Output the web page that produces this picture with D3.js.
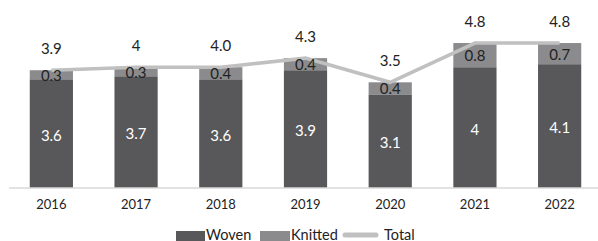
<!DOCTYPE html>
<html>
<head>
<meta charset="utf-8">
<script src="https://cdn.jsdelivr.net/npm/d3@7"></script>
<style>
  body { margin: 0; background: #fff; }
  svg { display: block; font-family: Lato, "Open Sans", sans-serif; }
</style>
</head>
<body>
<svg width="598" height="241"></svg>
<script>
var years = ["2016", "2017", "2018", "2019", "2020", "2021", "2022"];
var woven = [3.6, 3.7, 3.6, 3.9, 3.1, 4, 4.1];
var knitted = [0.3, 0.3, 0.4, 0.4, 0.4, 0.8, 0.7];
var total = [3.9, 4, 4.0, 4.3, 3.5, 4.8, 4.8];
var totalLabels = ["3.9", "4", "4.0", "4.3", "3.5", "4.8", "4.8"];
var wovenLabels = ["3.6", "3.7", "3.6", "3.9", "3.1", "4", "4.1"];
var knittedLabels = ["0.3", "0.3", "0.4", "0.4", "0.4", "0.8", "0.7"];

var svg = d3.select("svg");
var baseY = 188;

var x = d3.scaleBand()
  .domain(years)
  .range([9, 602])
  .paddingInner(0.49)
  .paddingOuter(0.245);

var y = d3.scaleLinear()
  .domain([0, 4.8])
  .range([baseY, baseY - 4.8 * 30.2]);

var rows = years.map(function(yr, i) {
  return {year: yr, woven: woven[i], knitted: knitted[i], total: total[i], i: i};
});

// woven
svg.selectAll(".woven")
  .data(rows)
  .enter().append("rect")
  .attr("class", "woven")
  .attr("x", function(d) { return x(d.year); })
  .attr("width", x.bandwidth())
  .attr("y", function(d) { return y(d.woven); })
  .attr("height", function(d) { return y(0) - y(d.woven); })
  .attr("fill", "#58585a");

// knitted
svg.selectAll(".knitted")
  .data(rows)
  .enter().append("rect")
  .attr("class", "knitted")
  .attr("x", function(d) { return x(d.year); })
  .attr("width", x.bandwidth())
  .attr("y", function(d) { return y(d.woven + d.knitted); })
  .attr("height", function(d) { return y(d.woven) - y(d.woven + d.knitted); })
  .attr("fill", "#8b8b8d");

// axis
var xAxis = svg.append("g")
  .attr("transform", "translate(0," + baseY + ")")
  .call(d3.axisBottom(x).tickSize(0).tickPadding(12));
xAxis.select(".domain").attr("stroke", "#d9d9d9").attr("stroke-width", 1.5).attr("d", "M9,0H598");
xAxis.selectAll("text")
  .attr("font-family", "Lato, sans-serif")
  .attr("font-size", 13)
  .attr("fill", "#222");

// total line
var line = d3.line()
  .x(function(d) { return x(d.year) + x.bandwidth() / 2; })
  .y(function(d) { return y(d.total); });

svg.append("path")
  .datum(rows)
  .attr("d", line)
  .attr("fill", "none")
  .attr("stroke", "#c0c0c0")
  .attr("stroke-width", 3.5);

// labels
svg.selectAll(".wl")
  .data(rows)
  .enter().append("text")
  .attr("x", function(d) { return x(d.year) + x.bandwidth() / 2; })
  .attr("y", function(d) { return (y(d.woven) + y(0)) / 2 + 7; })
  .attr("text-anchor", "middle")
  .attr("font-size", 15)
  .attr("fill", "#fff")
  .text(function(d) { return wovenLabels[d.i]; });

svg.selectAll(".kl")
  .data(rows)
  .enter().append("text")
  .attr("x", function(d) { return x(d.year) + x.bandwidth() / 2; })
  .attr("y", function(d) { return (y(d.woven) + y(d.woven + d.knitted)) / 2 + 6; })
  .attr("text-anchor", "middle")
  .attr("font-size", 15)
  .attr("fill", "#222")
  .text(function(d) { return knittedLabels[d.i]; });

svg.selectAll(".tl")
  .data(rows)
  .enter().append("text")
  .attr("x", function(d) { return x(d.year) + x.bandwidth() / 2; })
  .attr("y", function(d) { return y(d.total) - 16; })
  .attr("text-anchor", "middle")
  .attr("font-size", 15)
  .attr("fill", "#222")
  .text(function(d) { return totalLabels[d.i]; });

// legend
var legend = svg.append("g").attr("font-size", 14.5).attr("fill", "#222");
legend.append("rect").attr("x", 176).attr("y", 231).attr("width", 29).attr("height", 10).attr("fill", "#58585a");
legend.append("text").attr("x", 206).attr("y", 239.5).text("Woven");
legend.append("rect").attr("x", 260).attr("y", 231).attr("width", 30).attr("height", 10).attr("fill", "#8b8b8d");
legend.append("text").attr("x", 291).attr("y", 239.5).text("Knitted");
legend.append("line").attr("x1", 345).attr("x2", 376).attr("y1", 235).attr("y2", 235)
  .attr("stroke", "#c0c0c0").attr("stroke-width", 5).attr("stroke-linecap", "round");
legend.append("text").attr("x", 384).attr("y", 239.5).text("Total");
</script>
</body>
</html>
